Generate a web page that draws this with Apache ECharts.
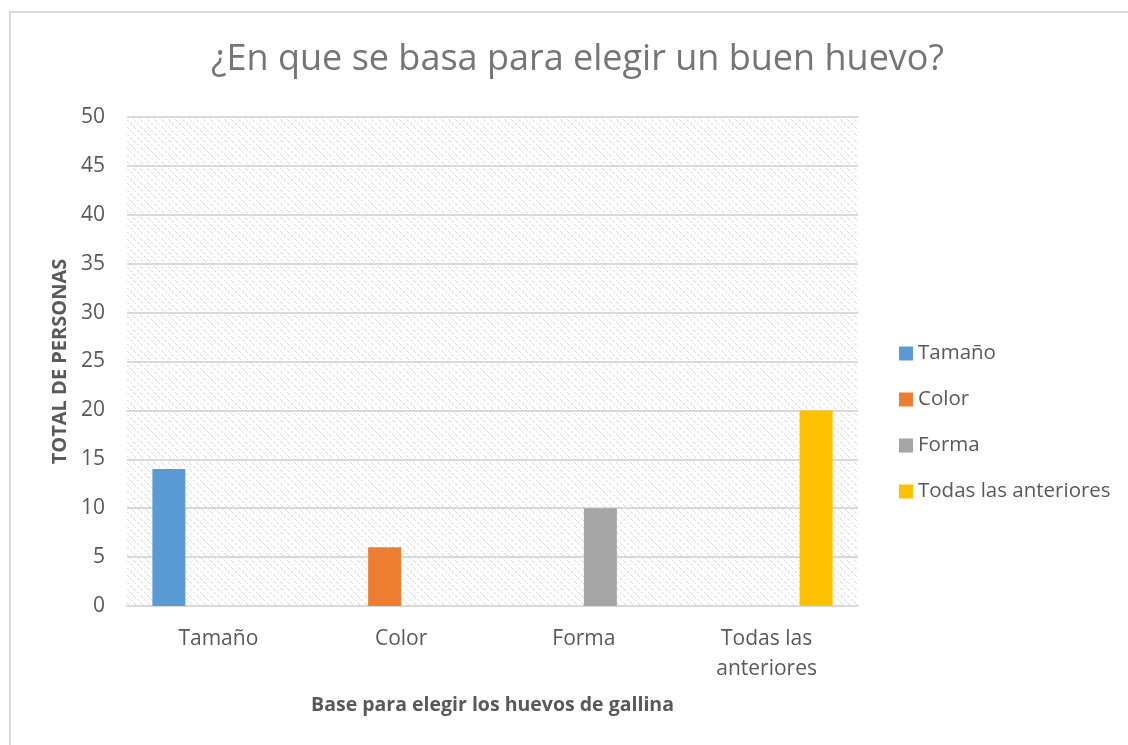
<!DOCTYPE html>
<html>
<head>
<meta charset="utf-8">
<script src="https://cdn.jsdelivr.net/npm/echarts@6/dist/echarts.min.js"></script>
<style>
  html, body { margin: 0; padding: 0; background: #fff; }
  #chart { width: 1128px; height: 745px; }
  .frame { position: absolute; left: 9px; top: 11px; right: -2px; bottom: -2px; border: 2px solid #d9d9d9; pointer-events: none; }
</style>
</head>
<body>
<div id="chart"></div>
<div class="frame"></div>
<script>
const categories = ['Tamaño', 'Color', 'Forma', 'Todas las\nanteriores']
const seriesNames = ['Tamaño', 'Color', 'Forma', 'Todas las anteriores']
const tamano = [14, null, null, null]
const color = [null, 6, null, null]
const forma = [null, null, 10, null]
const todas = [null, null, null, 20]
const yTicks = { min: 0, max: 50, interval: 5 }

const palette = ['#5b9bd5', '#ed7d31', '#a5a5a5', '#ffc000']
const textColor = '#595959'
const font = 'Open Sans'

// hatched plot background, like the Excel pattern fill
const makeHatch = () => {
  const c = document.createElement('canvas')
  c.width = 7
  c.height = 7
  const ctx = c.getContext('2d')
  ctx.fillStyle = '#ffffff'
  ctx.fillRect(0, 0, 7, 7)
  ctx.fillStyle = '#d9d9d9'
  for (let i = 0; i < 7; i++) {
    if (i === 3 || i === 6) continue
    ctx.fillRect(i, i, 1, 1)
  }
  return c
}

const chart = echarts.init(document.getElementById('chart'))

const makeSeries = (name, data, i) => ({
  name,
  type: 'bar',
  data,
  barWidth: 33,
  barGap: '0%',
  itemStyle: { color: palette[i] }
})

const option = {
  animation: false,
  textStyle: { fontFamily: font },
  title: {
    text: '¿En que se basa para elegir un buen huevo?',
    left: 206,
    top: 37,
    textStyle: { fontSize: 36, fontWeight: 'normal', color: '#757575', fontFamily: font }
  },
  legend: {
    orient: 'vertical',
    left: 899,
    top: 343,
    padding: 0,
    itemWidth: 14,
    itemHeight: 14,
    itemGap: 25,
    icon: 'rect',
    data: seriesNames,
    textStyle: { fontSize: 20.5, lineHeight: 20, color: textColor, fontFamily: font }
  },
  grid: {
    left: 127,
    right: 270,
    top: 117,
    bottom: 139,
    show: true,
    borderWidth: 0,
    backgroundColor: { image: makeHatch(), repeat: 'repeat' }
  },
  xAxis: {
    type: 'category',
    data: categories,
    name: 'Base para elegir los huevos de gallina',
    nameLocation: 'middle',
    nameGap: 89,
    nameTextStyle: { fontSize: 19.5, fontWeight: 'bold', color: textColor },
    axisLine: { lineStyle: { color: '#d9d9d9', width: 2 } },
    axisTick: { show: false },
    axisLabel: { fontSize: 21, color: textColor, margin: 18, lineHeight: 30 }
  },
  yAxis: {
    type: 'value',
    min: yTicks.min,
    max: yTicks.max,
    interval: yTicks.interval,
    name: 'TOTAL DE PERSONAS',
    nameLocation: 'middle',
    nameGap: 57,
    nameTextStyle: { fontSize: 20, fontWeight: 'bold', color: textColor },
    axisLine: { show: false },
    axisTick: { show: false },
    axisLabel: { fontSize: 21, color: textColor, margin: 22 },
    splitLine: { lineStyle: { color: '#d9d9d9', width: 2 } }
  },
  series: [
    makeSeries(seriesNames[0], tamano, 0),
    makeSeries(seriesNames[1], color, 1),
    makeSeries(seriesNames[2], forma, 2),
    makeSeries(seriesNames[3], todas, 3)
  ]
}

chart.setOption(option)
</script>
</body>
</html>
